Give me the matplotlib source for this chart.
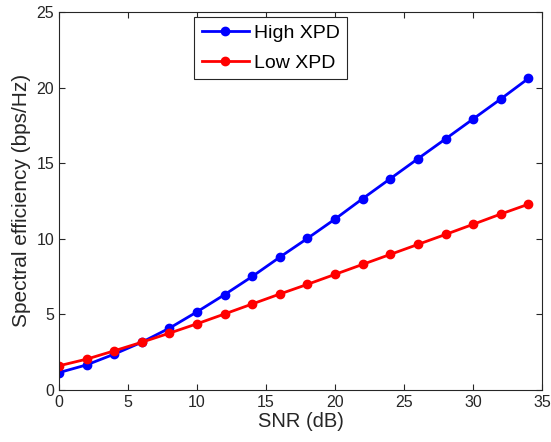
import matplotlib.pyplot as plt
import numpy as np

snr = np.arange(0, 35, 2)
high_xpd = [1.14, 1.65, 2.36, 3.15, 4.08, 5.16, 6.3, 7.5, 8.78, 10.02, 11.3, 12.65,
            13.97, 15.29, 16.6, 17.92, 19.24, 20.6]
low_xpd = [1.59, 2.03, 2.58, 3.15, 3.75, 4.37, 5.02, 5.68, 6.34, 6.98, 7.64, 8.3,
           8.96, 9.62, 10.28, 10.95, 11.63, 12.28]

plt.rcParams['font.family'] = ['Liberation Sans', 'DejaVu Sans']

fig = plt.figure(figsize=(5.51, 4.42), dpi=100)
ax = fig.add_axes([0.107, 0.118, 0.877, 0.855])
ax.plot(snr, high_xpd, '-o', color='#0000ff', lw=2, ms=6, label='High XPD')
ax.plot(snr, low_xpd, '-o', color='#ff0000', lw=2, ms=6, label='Low XPD')
ax.set(xlim=(0, 35), xticks=np.arange(0, 36, 5),
       ylim=(0, 25), yticks=np.arange(0, 26, 5))
ax.tick_params(direction='in', top=True, right=True, labelsize=11.5,
               color='#262626', labelcolor='#262626', length=4)
for s in ax.spines.values():
    s.set_color('#262626')
    s.set_linewidth(0.8)
ax.set_xlabel('SNR (dB)', fontsize=14.5, color='#262626', labelpad=2)
ax.set_ylabel('Spectral efficiency (bps/Hz)', fontsize=15, color='#262626', labelpad=4)
leg = ax.legend(loc='upper left', bbox_to_anchor=(0.28, 0.987), borderaxespad=0,
                fontsize=14, fancybox=False, edgecolor='#262626', framealpha=1,
                handlelength=2.4, handletextpad=0.25, labelspacing=0.6,
                borderpad=0.4)
leg.get_frame().set_linewidth(0.8)

plt.savefig('out.png')
